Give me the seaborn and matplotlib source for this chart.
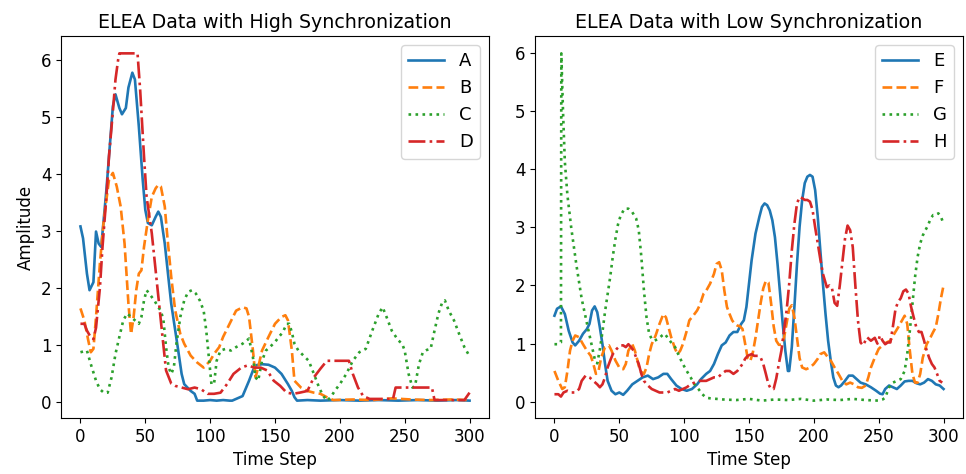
import matplotlib
matplotlib.use("Agg")
import matplotlib.pyplot as plt
import seaborn as sns
import pandas as pd

# ---------------- data ----------------
titles = ["ELEA Data with High Synchronization", "ELEA Data with Low Synchronization"]
names_high = ["A", "B", "C", "D"]
names_low = ["E", "F", "G", "H"]

A_t = [0, 2, 5, 7, 10, 12, 14, 16, 20, 25,
       27, 30, 32, 35, 37, 40, 42, 45, 48, 50,
       52, 55, 58, 60, 62, 65, 68, 70, 75, 78,
       80, 85, 88, 90, 95, 100, 105, 110, 115, 117,
       120, 125, 130, 133, 135, 140, 145, 150, 155, 160,
       163, 165, 167, 175, 185, 200, 215, 230, 245, 260,
       275, 290, 300]
A_v = [3.08, 2.87, 2.25, 1.96, 2.1, 2.99, 2.78, 2.72, 3.72, 5.19,
       5.4, 5.16, 5.05, 5.16, 5.52, 5.78, 5.66, 4.84, 3.9, 3.37,
       3.14, 3.1, 3.25, 3.34, 3.25, 2.78, 2.14, 1.72, 0.96, 0.49,
       0.31, 0.19, 0.14, 0.02, 0.02, 0.03, 0.02, 0.03, 0.02, 0.02,
       0.05, 0.1, 0.37, 0.55, 0.64, 0.66, 0.65, 0.6, 0.49, 0.31,
       0.19, 0.08, 0.02, 0.03, 0.02, 0.03, 0.02, 0.03, 0.02, 0.03,
       0.02, 0.03, 0.02]

B_t = [0, 3, 6, 8, 10, 12, 15, 18, 22, 25,
       28, 31, 34, 37, 39, 41, 43, 45, 47, 49,
       52, 55, 58, 60, 62, 65, 67, 70, 73, 77,
       80, 85, 90, 95, 100, 103, 107, 110, 115, 120,
       125, 128, 130, 133, 135, 137, 140, 145, 150, 155,
       158, 160, 163, 165, 170, 175, 180, 185, 190, 195,
       210, 225, 240, 255, 270, 285, 300]
B_v = [1.64, 1.43, 1.08, 0.87, 0.93, 1.49, 2.43, 3.19, 3.9, 4.02,
       3.78, 3.43, 2.78, 1.72, 1.19, 1.49, 1.96, 2.25, 2.31, 2.72,
       3.19, 3.6, 3.75, 3.81, 3.78, 3.43, 2.9, 2.19, 1.61, 1.19,
       1.02, 0.81, 0.69, 0.6, 0.72, 0.84, 0.96, 1.14, 1.37, 1.6,
       1.66, 1.64, 1.49, 0.9, 0.43, 0.6, 0.9, 1.14, 1.37, 1.49,
       1.52, 1.43, 0.9, 0.37, 0.25, 0.19, 0.16, 0.14, 0.08, 0.03,
       0.04, 0.03, 0.06, 0.04, 0.03, 0.04, 0.03]

C_t = [0, 5, 8, 12, 15, 18, 21, 24, 27, 30,
       33, 36, 39, 42, 45, 47, 49, 51, 53, 55,
       57, 60, 62, 64, 66, 68, 70, 72, 74, 77,
       80, 83, 86, 89, 92, 95, 97, 99, 101, 103,
       105, 108, 112, 116, 120, 125, 130, 133, 135, 137,
       140, 143, 146, 150, 153, 156, 159, 161, 163, 165,
       168, 172, 176, 180, 184, 187, 190, 193, 196, 200,
       205, 210, 215, 220, 225, 230, 233, 236, 240, 245,
       248, 250, 253, 256, 258, 261, 264, 267, 270, 273,
       276, 279, 281, 284, 288, 292, 296, 299]
C_v = [0.87, 0.9, 0.66, 0.37, 0.22, 0.16, 0.16, 0.43, 0.84, 1.14,
       1.43, 1.55, 1.49, 1.43, 1.37, 1.49, 1.78, 1.96, 1.9, 1.84,
       1.78, 1.66, 1.6, 1.43, 0.96, 0.6, 0.49, 0.6, 1.02, 1.49,
       1.78, 1.93, 1.96, 1.9, 1.78, 1.6, 1.25, 0.78, 0.31, 0.31,
       0.72, 0.9, 0.93, 0.9, 0.96, 1.02, 1.11, 0.78, 0.43, 0.37,
       0.72, 0.9, 0.96, 1.05, 1.14, 1.22, 1.37, 1.37, 1.22, 1.02,
       0.9, 0.81, 0.72, 0.49, 0.25, 0.11, 0.02, 0.08, 0.19, 0.31,
       0.49, 0.72, 0.87, 0.93, 1.25, 1.55, 1.66, 1.49, 1.25, 1.08,
       1.02, 0.9, 0.49, 0.25, 0.28, 0.66, 0.87, 0.91, 0.93, 1.25,
       1.55, 1.75, 1.78, 1.6, 1.43, 1.19, 0.96, 0.84]

D_t = [0, 3, 5, 8, 10, 12, 15, 17, 20, 22,
       25, 27, 29, 30, 44, 46, 49, 51, 55, 59,
       63, 66, 70, 73, 78, 83, 88, 93, 98, 103,
       108, 113, 118, 124, 129, 134, 139, 144, 149, 154,
       159, 164, 169, 175, 180, 185, 190, 207, 210, 214,
       218, 223, 241, 243, 271, 273, 296, 300]
D_v = [1.37, 1.37, 1.25, 1.13, 1.1, 1.3, 2.0, 2.72, 3.6, 4.31,
       5.1, 5.66, 6.0, 6.12, 6.12, 5.49, 4.31, 3.6, 2.96, 2.08,
       1.2, 0.55, 0.32, 0.28, 0.25, 0.22, 0.25, 0.22, 0.14, 0.14,
       0.16, 0.31, 0.49, 0.6, 0.64, 0.6, 0.6, 0.55, 0.37, 0.28,
       0.16, 0.14, 0.16, 0.19, 0.43, 0.58, 0.72, 0.72, 0.49, 0.25,
       0.1, 0.05, 0.05, 0.25, 0.25, 0.03, 0.03, 0.16]

E_t = [0, 2, 5, 8, 11, 14, 16, 19, 22, 25,
       27, 29, 31, 33, 35, 37, 39, 41, 44, 47,
       50, 53, 56, 60, 64, 68, 72, 76, 80, 84,
       87, 90, 94, 98, 102, 106, 110, 113, 117, 120,
       123, 126, 129, 132, 135, 138, 141, 144, 146, 148,
       150, 152, 155, 158, 160, 162, 164, 166, 168, 170,
       172, 174, 176, 178, 180, 181, 183, 185, 187, 189,
       191, 193, 195, 197, 199, 201, 203, 205, 207, 209,
       211, 213, 215, 217, 219, 221, 224, 227, 230, 233,
       236, 240, 244, 248, 251, 253, 255, 258, 261, 264,
       267, 270, 273, 276, 279, 282, 285, 288, 291, 294,
       297, 300]
E_v = [1.48, 1.6, 1.64, 1.51, 1.22, 1.02, 0.97, 1.05, 1.17, 1.25,
       1.34, 1.57, 1.64, 1.54, 1.28, 0.99, 0.65, 0.36, 0.19, 0.13,
       0.16, 0.12, 0.19, 0.3, 0.36, 0.42, 0.45, 0.39, 0.42, 0.48,
       0.48, 0.39, 0.28, 0.22, 0.19, 0.22, 0.3, 0.39, 0.48, 0.53,
       0.65, 0.82, 0.97, 1.02, 1.14, 1.2, 1.2, 1.34, 1.4, 1.63,
       2.03, 2.43, 2.89, 3.18, 3.35, 3.41, 3.38, 3.29, 3.12, 2.83,
       2.37, 1.86, 1.34, 0.88, 0.53, 0.53, 0.94, 1.63, 2.37, 3.01,
       3.47, 3.76, 3.87, 3.9, 3.87, 3.64, 3.18, 2.6, 2.03, 1.51,
       1.05, 0.71, 0.42, 0.28, 0.25, 0.28, 0.36, 0.45, 0.45, 0.39,
       0.33, 0.3, 0.25, 0.19, 0.14, 0.13, 0.22, 0.28, 0.25, 0.22,
       0.28, 0.35, 0.36, 0.36, 0.32, 0.3, 0.33, 0.39, 0.36, 0.3,
       0.28, 0.22]

F_t = [0, 3, 6, 8, 10, 12, 14, 16, 19, 22,
       25, 28, 30, 32, 34, 36, 39, 42, 44, 47,
       50, 53, 55, 57, 60, 62, 64, 66, 69, 71,
       73, 75, 78, 81, 84, 86, 88, 90, 93, 95,
       97, 99, 102, 104, 107, 110, 112, 115, 117, 120,
       123, 125, 127, 129, 131, 133, 135, 137, 139, 141,
       143, 145, 147, 149, 151, 153, 155, 157, 159, 161,
       163, 165, 167, 169, 171, 173, 175, 177, 179, 181,
       183, 185, 187, 189, 191, 194, 197, 200, 203, 205,
       208, 210, 213, 216, 219, 222, 225, 228, 231, 234,
       237, 240, 242, 244, 247, 250, 253, 256, 259, 262,
       265, 268, 270, 272, 274, 276, 278, 280, 282, 284,
       287, 290, 292, 294, 296, 298, 300]
F_v = [0.53, 0.36, 0.22, 0.25, 0.53, 0.88, 1.05, 1.14, 1.11, 0.99,
       0.88, 0.79, 0.65, 0.48, 0.53, 0.76, 0.94, 0.97, 0.88, 0.71,
       0.59, 0.56, 0.65, 0.88, 0.99, 0.88, 0.71, 0.53, 0.48, 0.59,
       0.82, 0.99, 1.14, 1.34, 1.51, 1.45, 1.28, 1.11, 0.91, 0.82,
       0.88, 0.99, 1.22, 1.4, 1.48, 1.57, 1.66, 1.86, 1.91, 2.03,
       2.2, 2.37, 2.4, 2.26, 1.91, 1.63, 1.51, 1.4, 1.34, 1.31,
       1.3, 1.25, 1.0, 0.75, 0.7, 0.85, 1.1, 1.4, 1.7, 1.95,
       2.08, 2.05, 1.7, 1.3, 1.05, 0.98, 0.98, 1.1, 1.35, 1.6,
       1.66, 1.45, 1.1, 0.75, 0.59, 0.56, 0.59, 0.65, 0.74, 0.82,
       0.85, 0.79, 0.71, 0.59, 0.48, 0.36, 0.3, 0.33, 0.3, 0.25,
       0.24, 0.28, 0.42, 0.59, 0.76, 0.91, 0.97, 1.02, 1.05, 1.17,
       1.28, 1.4, 1.48, 1.34, 0.88, 0.48, 0.33, 0.33, 0.48, 0.76,
       0.99, 1.11, 1.2, 1.28, 1.51, 1.78, 2.0]

G_t = [0, 3, 5, 5.3, 6.6, 8, 10, 13, 17, 21,
       26, 31, 33, 35, 37, 39, 41, 43, 45, 47,
       49, 51, 54, 57, 60, 63, 65, 67, 69, 71,
       73, 75, 77, 80, 83, 85, 87, 90, 93, 96,
       99, 102, 105, 108, 111, 114, 117, 120, 130, 140,
       150, 160, 170, 180, 190, 200, 210, 220, 230, 240,
       250, 253, 255, 258, 261, 264, 267, 270, 272, 274,
       276, 278, 280, 282, 284, 286, 288, 290, 292, 294,
       296, 298, 300]
G_v = [0.99, 0.99, 1.02, 5.99, 4.99, 4.13, 3.55, 2.98, 2.34, 1.77,
       1.25, 0.74, 0.66, 0.9, 1.2, 1.55, 1.85, 2.15, 2.5, 2.8,
       3.05, 3.2, 3.32, 3.32, 3.26, 3.15, 2.95, 2.49, 1.91, 1.45,
       1.17, 1.08, 1.05, 1.08, 1.14, 1.17, 1.11, 1.02, 0.94, 0.79,
       0.65, 0.53, 0.42, 0.3, 0.22, 0.13, 0.07, 0.06, 0.04, 0.03,
       0.05, 0.02, 0.04, 0.03, 0.05, 0.02, 0.04, 0.03, 0.05, 0.03,
       0.02, 0.04, 0.07, 0.25, 0.33, 0.36, 0.39, 0.53, 0.82, 1.22,
       1.68, 2.14, 2.49, 2.72, 2.86, 2.95, 3.03, 3.15, 3.21, 3.21,
       3.24, 3.18, 3.06]

H_t = [0, 3, 5, 7, 10, 13, 16, 19, 21, 24,
       27, 30, 33, 35, 37, 39, 41, 43, 45, 48,
       51, 53, 55, 57, 59, 61, 63, 65, 67, 69,
       72, 75, 78, 81, 84, 87, 90, 93, 96, 99,
       102, 105, 108, 111, 114, 117, 120, 123, 126, 129,
       132, 135, 138, 141, 143, 145, 147, 149, 152, 154,
       157, 159, 161, 163, 165, 167, 169, 171, 173, 175,
       177, 179, 181, 183, 185, 187, 189, 191, 193, 195,
       197, 199, 201, 203, 205, 207, 210, 212, 214, 216,
       218, 220, 222, 224, 226, 228, 230, 232, 234, 236,
       238, 241, 244, 247, 249, 251, 253, 255, 257, 259,
       261, 263, 265, 267, 269, 271, 273, 275, 277, 279,
       281, 283, 285, 287, 289, 291, 293, 295, 297, 299]
H_v = [0.13, 0.13, 0.09, 0.16, 0.19, 0.16, 0.16, 0.22, 0.36, 0.45,
       0.42, 0.36, 0.3, 0.25, 0.3, 0.42, 0.59, 0.71, 0.82, 0.91,
       0.97, 0.97, 0.94, 0.99, 0.94, 0.88, 0.76, 0.65, 0.48, 0.36,
       0.28, 0.22, 0.19, 0.16, 0.16, 0.16, 0.19, 0.22, 0.19, 0.22,
       0.25, 0.3, 0.33, 0.36, 0.36, 0.36, 0.39, 0.42, 0.42, 0.48,
       0.53, 0.53, 0.48, 0.53, 0.59, 0.65, 0.74, 0.79, 0.82, 0.79,
       0.79, 0.76, 0.65, 0.48, 0.3, 0.22, 0.22, 0.4, 0.65, 0.88,
       1.22, 1.57, 2.03, 2.6, 3.06, 3.41, 3.52, 3.5, 3.47, 3.47,
       3.44, 3.3, 3.0, 2.72, 2.45, 2.2, 1.97, 2.0, 1.95, 1.7,
       1.65, 2.0, 2.4, 2.8, 3.03, 2.95, 2.66, 2.0, 1.4, 1.02,
       0.97, 1.11, 1.05, 1.1, 1.0, 1.14, 1.05, 0.99, 1.02, 1.02,
       1.3, 1.6, 1.72, 1.78, 1.9, 1.93, 1.86, 1.63, 1.45, 1.28,
       1.2, 1.2, 1.05, 0.88, 0.75, 0.65, 0.59, 0.48, 0.36, 0.33]

palette = ["#1f77b4", "#ff7f0e", "#2ca02c", "#d62728"]
dash_styles = ["", (3.7, 1.6), (1, 1.65), (6.4, 1.6, 1, 1.6)]


def long_frame(names, ts, vs):
    frames = []
    for n, t, v in zip(names, ts, vs):
        frames.append(pd.DataFrame({"Time Step": t, "Amplitude": v, "Series": n}))
    return pd.concat(frames, ignore_index=True)


df_high = long_frame(names_high, [A_t, B_t, C_t, D_t], [A_v, B_v, C_v, D_v])
df_low = long_frame(names_low, [E_t, F_t, G_t, H_t], [E_v, F_v, G_v, H_v])

W, H = 966, 474
fig = plt.figure(figsize=(W / 100, H / 100), dpi=100)
bottom = 1 - 418 / H
height = (418 - 36) / H
ax0 = fig.add_axes([61 / W, bottom, 428 / W, height])
ax1 = fig.add_axes([535 / W, bottom, 428 / W, height])
axes = [ax0, ax1]

for ax, df, names, title in zip(axes, [df_high, df_low], [names_high, names_low], titles):
    sns.lineplot(data=df, x="Time Step", y="Amplitude", hue="Series", style="Series",
                 hue_order=names, style_order=names, palette=palette, dashes=dash_styles,
                 estimator=None, sort=True, linewidth=1.9, ax=ax)
    ax.set_title(title, fontsize=13.7)
    ax.set_xlabel("Time Step", fontsize=12)
    ax.tick_params(labelsize=12)
    h, l = ax.get_legend_handles_labels()
    ax.legend(h, l, loc="upper right", fontsize=13)

ax0.set_ylabel("Amplitude", fontsize=12)
ax1.set_ylabel("")

fig.savefig("out.png", dpi=100)
